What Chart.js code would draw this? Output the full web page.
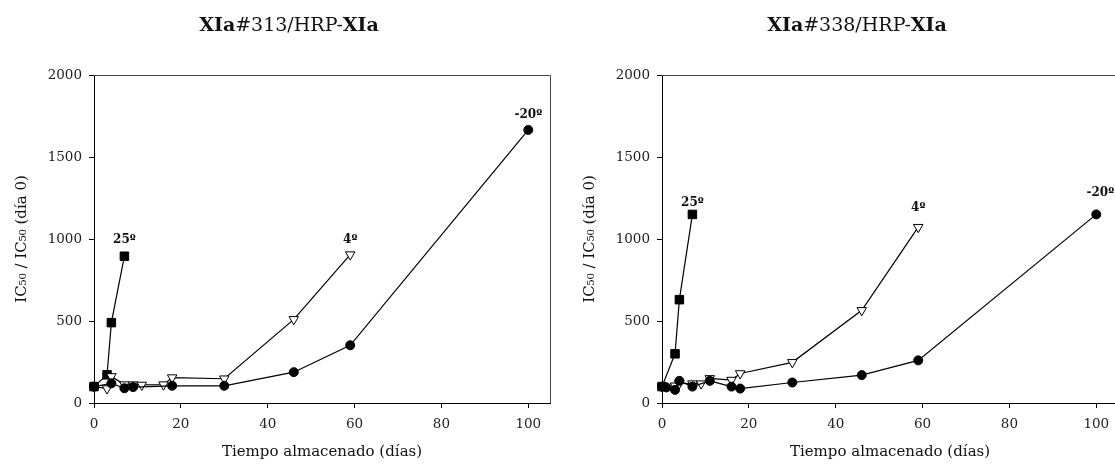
<!DOCTYPE html>
<html>
<head>
<meta charset="utf-8">
<script src="https://cdn.jsdelivr.net/npm/chart.js@4.4.1/dist/chart.umd.min.js"></script>
<style>
  html, body { margin: 0; padding: 0; background: #fff; overflow: hidden; }
  #wrap { position: relative; width: 1115px; height: 465px; overflow: hidden; }
  #wrap canvas { position: absolute; top: 0; }
</style>
</head>
<body>
<div id="wrap">
  <canvas id="chartL" width="557" height="465" style="left:0"></canvas>
  <canvas id="chartR" width="557" height="465" style="left:568px"></canvas>
</div>
<script>
// --- data: XIa#313 (left panel)
const daysL25 = [0, 3, 4, 7];
const valsL25 = [100, 172, 490, 895];
const daysL4  = [0, 3, 4, 7, 9, 11, 16, 18, 30, 46, 59];
const valsL4  = [100, 88, 162, 112, 112, 110, 112, 155, 148, 510, 905];
const daysL20 = [0, 4, 7, 9, 18, 30, 46, 59, 100];
const valsL20 = [100, 120, 90, 97, 105, 105, 188, 352, 1665];

// --- data: XIa#338 (right panel)
const daysR25 = [0, 3, 4, 7];
const valsR25 = [100, 300, 630, 1150];
const daysR4  = [0, 3, 4, 7, 9, 11, 16, 18, 30, 46, 59];
const valsR4  = [100, 105, 120, 118, 118, 150, 140, 180, 248, 565, 1072];
const daysR20 = [0, 1, 3, 4, 7, 11, 16, 18, 30, 46, 59, 100];
const valsR20 = [100, 95, 80, 135, 100, 135, 100, 88, 125, 170, 260, 1150];

const tagNames = ["25º", "4º", "-20º"];
const xTicks = [0, 20, 40, 60, 80, 100];
const yTicks = [0, 500, 1000, 1500, 2000];

const SERIF = "'DejaVu Serif', serif";
const pts = (xs, ys) => xs.map((x, i) => ({ x, y: ys[i] }));

/* === PLUGINS */
// box lines on top & right of plot area
const framePlugin = {
  id: "frame",
  afterDraw(chart) {
    const { left, right, top, bottom } = chart.chartArea;
    const ctx = chart.ctx;
    ctx.save();
    ctx.strokeStyle = "#444";
    ctx.lineWidth = 1;
    ctx.beginPath();
    ctx.moveTo(Math.round(left), Math.round(top) + 0.5);
    ctx.lineTo(Math.round(right) + 0.5, Math.round(top) + 0.5);
    ctx.lineTo(Math.round(right) + 0.5, Math.round(bottom));
    ctx.stroke();
    ctx.restore();
  }
};

// panel title with mixed bold / regular pieces
const panelTitlePlugin = {
  id: "panelTitle",
  afterDraw(chart, args, opts) {
    if (!opts.parts) return;
    const ctx = chart.ctx;
    const fontOf = b => (b ? "bold " : "") + "19px " + SERIF;
    ctx.save();
    let total = 0;
    opts.parts.forEach(p => { ctx.font = fontOf(p.bold); total += ctx.measureText(p.text).width; });
    let x = chart.chartArea.left + opts.dx - total / 2;
    ctx.fillStyle = "#111";
    ctx.textBaseline = "middle";
    ctx.textAlign = "left";
    opts.parts.forEach(p => {
      ctx.font = fontOf(p.bold);
      ctx.fillText(p.text, x, opts.y);
      x += ctx.measureText(p.text).width;
    });
    ctx.restore();
  }
};

// "25º" / "4º" / "-20º" tags above each series' last point
const tagPlugin = {
  id: "tags",
  afterDatasetsDraw(chart) {
    const ctx = chart.ctx;
    ctx.save();
    ctx.font = "bold 12px " + SERIF;
    ctx.fillStyle = "#111";
    ctx.textAlign = "center";
    ctx.textBaseline = "middle";
    chart.data.datasets.forEach((ds, i) => {
      const meta = chart.getDatasetMeta(i);
      const last = meta.data[meta.data.length - 1];
      if (!last) return;
      ctx.fillText(ds.label, last.x + (ds.tagDx || 0), last.y + (ds.tagDy || -16));
    });
    ctx.restore();
  }
};

Chart.register(framePlugin, panelTitlePlugin, tagPlugin);

function makeDatasets(d20, v20, d4, v4, d25, v25, dy) {
  const base = { borderColor: "#000", borderWidth: 1.2, pointBorderColor: "#000", pointBorderWidth: 1, clip: false, tension: 0 };
  return [
    { ...base, label: tagNames[2], data: pts(d20, v20), pointStyle: "circle", pointRadius: 4.5,
      pointBackgroundColor: "#000", tagDy: dy[2], tagDx: dy[3] },
    { ...base, label: tagNames[1], data: pts(d4, v4), pointStyle: "triangle", pointRotation: 180,
      pointRadius: 5.5, pointBackgroundColor: "#fff", tagDy: dy[1] },
    { ...base, label: tagNames[0], data: pts(d25, v25), pointStyle: "rect", pointRadius: 6,
      pointBackgroundColor: "#000", tagDy: dy[0] }
  ];
}

function makeOptions(titleNum) {
  const tickFont = { family: SERIF, size: 13.5 };
  return {
    responsive: false,
    animation: false,
    layout: { padding: { top: 75, right: 7, left: 0, bottom: 0 } },
    plugins: {
      legend: { display: false },
      tooltip: { enabled: false },
      panelTitle: {
        parts: [{ text: "XIa", bold: true }, { text: "#" + titleNum + "/HRP-", bold: false }, { text: "XIa", bold: true }],
        dx: 195, y: 26
      }
    },
    scales: {
      x: {
        type: "linear", min: 0, max: 105,
        afterBuildTicks: s => { s.ticks = xTicks.map(v => ({ value: v })); },
        afterFit: s => { s.height = 62; },
        ticks: { padding: 8, color: "#222", font: tickFont, callback: v => String(v) },
        grid: { drawOnChartArea: false, drawTicks: true, tickLength: 5, color: "#000" },
        border: { color: "#000", width: 1 },
        title: { display: true, text: "Tiempo almacenado (días)", color: "#111",
          font: { family: SERIF, size: 15 }, padding: { top: 0, bottom: 4 } }
      },
      y: {
        type: "linear", min: 0, max: 2000,
        afterBuildTicks: s => { s.ticks = yTicks.map(v => ({ value: v })); },
        afterFit: s => { s.width = 94; },
        ticks: { padding: 7, color: "#222", font: tickFont, callback: v => String(v) },
        grid: { drawOnChartArea: false, drawTicks: true, tickLength: 5, color: "#000" },
        border: { color: "#000", width: 1 },
        title: { display: true, text: "IC₅₀ / IC₅₀ (día 0)", color: "#111",
          font: { family: SERIF, size: 15 }, padding: { top: 13, bottom: 0 } }
      }
    }
  };
}

new Chart(document.getElementById("chartL"), {
  type: "line",
  data: { datasets: makeDatasets(daysL20, valsL20, daysL4, valsL4, daysL25, valsL25, [-16, -15, -15, 0]) },
  options: makeOptions("313")
});

new Chart(document.getElementById("chartR"), {
  type: "line",
  data: { datasets: makeDatasets(daysR20, valsR20, daysR4, valsR4, daysR25, valsR25, [-12, -19, -22, 4]) },
  options: makeOptions("338")
});
</script>
</body>
</html>
